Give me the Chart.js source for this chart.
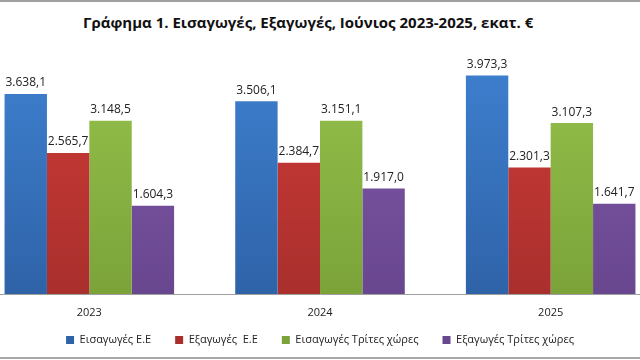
<!DOCTYPE html>
<html>
<head>
<meta charset="utf-8">
<script src="https://cdn.jsdelivr.net/npm/chart.js@4.4.1/dist/chart.umd.min.js"></script>
<style>
  html, body { margin: 0; padding: 0; background: #fff; }
  body { width: 640px; height: 360px; position: relative; overflow: hidden; font-family: "Open Sans", "Noto Sans", sans-serif; }
  #topLine { position: absolute; left: 0; top: 0; width: 640px; height: 2px; background: #a0a0a0; }
  #bottomLine { position: absolute; left: 0; top: 357px; width: 640px; height: 2px; background: #a8a8a8; }
  #title { position: absolute; left: 83px; top: 12px; font-size: 15px; font-weight: bold; color: #111; white-space: nowrap; }
  #wrap { position: absolute; left: -26px; top: 0; width: 692px; height: 360px; }
</style>
</head>
<body>
<div id="topLine"></div>
<div id="title">Γράφημα 1. Εισαγωγές, Εξαγωγές, Ιούνιος 2023-2025, εκατ. €</div>
<div id="wrap"><canvas id="chart" width="692" height="360"></canvas></div>
<div id="bottomLine"></div>
<script>
// ==================== DATOS ====================
const years = ['2023', '2024', '2025'];
const seriesNames = ['Εισαγωγές Ε.Ε', 'Εξαγωγές  Ε.Ε', 'Εισαγωγές Τρίτες χώρες', 'Εξαγωγές Τρίτες χώρες'];
const importsEU = [3638.1, 3506.1, 3973.3];
const exportsEU = [2565.7, 2384.7, 2301.3];
const importsThird = [3148.5, 3151.1, 3107.3];
const exportsThird = [1604.3, 1917.0, 1641.7];

// top / bottom gradient colours
const colours = [
  ['#3f82d2', '#2f63a8'],
  ['#d13d38', '#a92f2d'],
  ['#97c44c', '#7ba33a'],
  ['#8259ab', '#69478f']
];

// formato griego: 3.638,1
function fmt(v) {
  const parts = v.toFixed(1).split('.');
  return parts[0].replace(/\B(?=(\d{3})+(?!\d))/g, '.') + ',' + parts[1];
}

function gradient(ctx, i) {
  const area = ctx.chart.chartArea;
  if (!area) return colours[i][0];
  const g = ctx.chart.ctx.createLinearGradient(0, area.top, 0, area.bottom);
  g.addColorStop(0, colours[i][0]);
  g.addColorStop(1, colours[i][1]);
  return g;
}

// ==================== ETIQUETAS ====================
const valueLabels = {
  id: 'valueLabels',
  afterDatasetsDraw(chart) {
    const c = chart.ctx;
    c.save();
    c.font = '12px "Open Sans", "Noto Sans", sans-serif';
    c.fillStyle = '#222';
    c.textAlign = 'center';
    c.textBaseline = 'bottom';
    chart.data.datasets.forEach((ds, i) => {
      chart.getDatasetMeta(i).data.forEach((bar, j) => {
        c.fillText(fmt(ds.data[j]), bar.x, bar.y - 5);
      });
    });
    c.restore();
  }
};

// la leyenda va algo más arriba de lo que deja el layout
const legendShift = {
  id: 'legendShift',
  afterLayout(chart) {
    const lg = chart.legend;
    const h = lg.bottom - lg.top;
    lg.top = 310.5;
    lg.bottom = lg.top + h;
  }
};

// ==================== GRÁFICO ====================
const allSeries = [importsEU, exportsEU, importsThird, exportsThird];

new Chart(document.getElementById('chart'), {
  type: 'bar',
  data: {
    labels: years,
    datasets: allSeries.map((d, i) => ({
      label: seriesNames[i],
      data: d,
      backgroundColor: ctx => gradient(ctx, i),
      borderWidth: 0,
      categoryPercentage: 0.735,
      barPercentage: 1
    }))
  },
  options: {
    responsive: false,
    animation: false,
    maintainAspectRatio: false,
    layout: { padding: { top: 41, left: 0, right: 0, bottom: 0.8 } },
    scales: {
      x: {
        grid: { display: false },
        border: { display: true, color: '#a0a0a0', width: 1 },
        ticks: { color: '#222', font: { size: 11, family: '"Open Sans", "Noto Sans", sans-serif' }, padding: 4 }
      },
      y: {
        display: false,
        min: 0,
        max: 4600
      }
    },
    plugins: {
      legend: {
        position: 'bottom',
        maxHeight: 36,
        labels: {
          boxWidth: 8,
          boxHeight: 8,
          padding: 24,
          color: '#222',
          font: { size: 11, family: '"Open Sans", "Noto Sans", sans-serif' }
        }
      },
      tooltip: { enabled: false }
    }
  },
  plugins: [valueLabels, legendShift]
});
</script>
</body>
</html>
